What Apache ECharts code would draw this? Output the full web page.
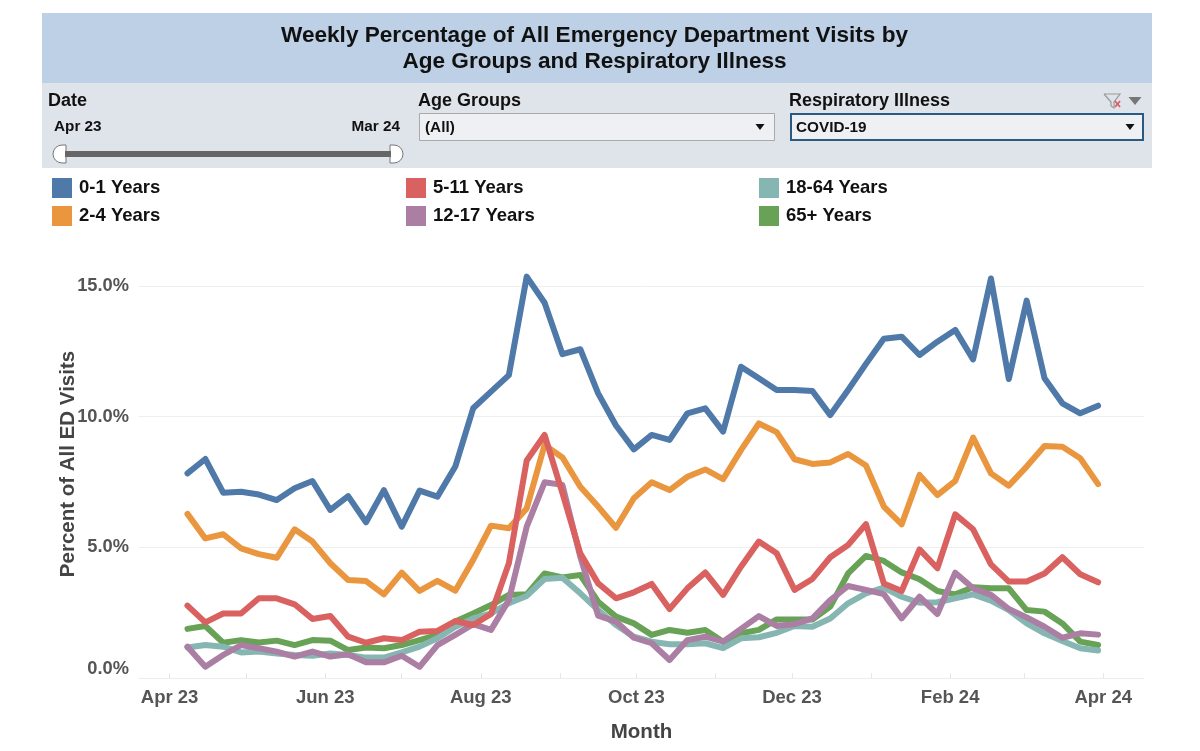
<!DOCTYPE html>
<html>
<head>
<meta charset="utf-8">
<title>Weekly Percentage of All Emergency Department Visits</title>
<script src="https://cdn.jsdelivr.net/npm/echarts@6/dist/echarts.min.js"></script>
<style>html,body{margin:0;padding:0;background:#fff}#c{width:1200px;height:751px}</style>
</head>
<body>
<div id="c"></div>
<script>
const weeks = ['2023-04-08','2023-04-15','2023-04-22','2023-04-29','2023-05-06','2023-05-13','2023-05-20','2023-05-27',
'2023-06-03','2023-06-10','2023-06-17','2023-06-24','2023-07-01','2023-07-08','2023-07-15','2023-07-22','2023-07-29',
'2023-08-05','2023-08-12','2023-08-19','2023-08-26','2023-09-02','2023-09-09','2023-09-16','2023-09-23','2023-09-30',
'2023-10-07','2023-10-14','2023-10-21','2023-10-28','2023-11-04','2023-11-11','2023-11-18','2023-11-25',
'2023-12-02','2023-12-09','2023-12-16','2023-12-23','2023-12-30','2024-01-06','2024-01-13','2024-01-20','2024-01-27',
'2024-02-03','2024-02-10','2024-02-17','2024-02-24','2024-03-02','2024-03-09','2024-03-16','2024-03-23','2024-03-30'];

const age0to1 = [7.83,8.38,7.09,7.13,7.02,6.81,7.26,7.54,6.43,6.96,5.96,7.19,5.79,7.17,6.94,8.09,10.32,10.96,11.59,15.36,14.36,12.39,12.58,10.89,9.66,8.75,9.30,9.11,10.13,10.32,9.43,11.91,11.47,11.02,11.02,10.98,10.06,11.02,12.02,12.98,13.06,12.36,12.87,13.32,12.19,15.29,11.44,14.44,11.47,10.51,10.13,10.42];
const age2to4 = [6.28,5.34,5.50,4.96,4.74,4.60,5.69,5.22,4.39,3.75,3.71,3.20,4.03,3.33,3.72,3.34,4.52,5.83,5.73,6.49,8.92,8.44,7.32,6.56,5.75,6.88,7.49,7.19,7.70,7.98,7.61,8.72,9.74,9.41,8.37,8.19,8.25,8.57,8.13,6.56,5.88,7.77,7.00,7.54,9.20,7.83,7.36,8.09,8.88,8.85,8.41,7.42];
const age5to11 = [2.77,2.13,2.47,2.47,3.05,3.05,2.82,2.26,2.37,1.58,1.35,1.52,1.45,1.77,1.80,2.18,2.03,2.45,4.39,8.32,9.30,7.07,4.77,3.62,3.05,3.28,3.60,2.64,3.43,4.04,3.18,4.26,5.22,4.77,3.37,3.79,4.62,5.09,5.89,3.62,3.33,4.92,4.20,6.26,5.69,4.35,3.69,3.69,4.00,4.62,3.97,3.66];
const age12to17 = [1.20,0.43,0.88,1.26,1.14,1.01,0.82,1.01,0.82,0.91,0.60,0.60,0.85,0.43,1.26,1.65,2.06,1.84,2.98,5.79,7.49,7.39,4.64,2.39,2.16,1.54,1.33,0.69,1.45,1.58,1.39,1.88,2.37,1.99,2.06,2.28,2.98,3.52,3.37,3.21,2.28,3.11,2.45,4.03,3.43,3.18,2.64,2.32,1.96,1.54,1.71,1.66];
const age18to64 = [1.17,1.26,1.20,0.98,1.01,0.94,0.88,0.85,0.94,0.88,0.78,0.78,0.98,1.20,1.52,1.96,2.28,2.47,2.86,3.14,3.79,3.84,3.24,2.60,2.03,1.58,1.39,1.29,1.29,1.33,1.14,1.52,1.56,1.73,1.99,1.96,2.28,2.86,3.24,3.46,3.11,2.88,2.90,3.05,3.20,2.96,2.60,2.09,1.71,1.42,1.14,1.05];
const age65plus = [1.88,1.99,1.35,1.45,1.36,1.43,1.26,1.45,1.43,1.07,1.17,1.14,1.26,1.45,1.65,2.16,2.47,2.79,3.18,3.20,4.00,3.85,3.94,2.92,2.35,2.09,1.65,1.84,1.73,1.84,1.39,1.71,1.84,2.24,2.24,2.24,2.73,4.00,4.67,4.48,4.04,3.78,3.33,3.20,3.47,3.43,3.43,2.60,2.54,2.09,1.39,1.26];

const monthTicks = ['2023-04-01','2023-05-01','2023-06-01','2023-07-01','2023-08-01','2023-09-01','2023-10-01','2023-11-01','2023-12-01','2024-01-01','2024-02-01','2024-03-01','2024-04-01'];
const labelTicks = ['2023-04-01','2023-06-01','2023-08-01','2023-10-01','2023-12-01','2024-02-01','2024-04-01'];
const tickLabels = ['Apr 23','Jun 23','Aug 23','Oct 23','Dec 23','Feb 24','Apr 24'];

const FONT = '"Liberation Sans", Arial, sans-serif';
const C = {a01:'#4f79a8', a24:'#e9963f', a511:'#d9615f', a1217:'#ab7ea3', a1864:'#85b6b2', a65:'#68a257'};

// days since 1 Apr 2023: the x axis is a linear day scale
const dayOf = s => (Date.parse(s + 'T00:00:00Z') - Date.parse('2023-04-01T00:00:00Z')) / 86400000;

function line(name, values, color) {
  return {
    name, type:'line', symbol:'none', clip:false, animation:false, silent:true,
    color, itemStyle:{color},
    lineStyle:{color, width:6, cap:'round', join:'round'},
    data: weeks.map((w,i)=>[dayOf(w), values[i]])
  };
}
function legendItem(name, left, top) {
  return {
    data:[name], left, top, padding:0, icon:'rect', itemWidth:20, itemHeight:20,
    selectedMode:false,
    textStyle:{fontFamily:FONT, fontWeight:'bold', fontSize:18.5, color:'#111', padding:[2,0,0,2]}
  };
}
function label(text, x, y, size, align) {
  return {type:'text', x, y, silent:true, z:5, style:{
    text, fontFamily:FONT, fontWeight:'bold', fontSize:size, fill:'#111',
    align:align||'left', verticalAlign:'middle'
  }};
}
function box(x, y, w, h, fill, stroke, lw, r) {
  return {type:'rect', silent:true, z:2, shape:{x,y,width:w,height:h,r:r||0},
    style:{fill, stroke:stroke||null, lineWidth:lw||0}};
}
function tri(cx, cy, w, h, fill) {
  return {type:'polygon', silent:true, z:5, shape:{points:[[cx-w/2,cy-h/2],[cx+w/2,cy-h/2],[cx,cy+h/2]]}, style:{fill}};
}

const chrome = [
  box(42,13,1110,70,'#bdd0e6'),
  box(42,83,1110,85,'#dfe3ea'),
  label('Date',48,101,18),
  label('Age Groups',418,101,18),
  label('Respiratory Illness',789,101,18),
  label('Apr 23',54,127,15.3),
  label('Mar 24',400,127,15.3,'right'),
  // date slider
  box(53,145,13,18,'#fff','#777',1,[9,0,0,9]),
  box(390,145,13,18,'#fff','#777',1,[0,9,9,0]),
  box(65,151,326,6,'#666'),
  // drop-downs
  box(419.5,113.5,355,27,'#eef0f4','#a9a9a9',1),
  label('(All)',425,128,15.3),
  tri(760,127,9,6,'#111'),
  box(791,114,352,26,'#eef0f4','#2b5a80',2),
  label('COVID-19',796,128,15.3),
  tri(1130,127,9,6,'#111'),
  // filter icons
  {type:'polyline', silent:true, z:5, shape:{points:[[1104,94],[1120,94],[1114,102],[1114,108],[1111,106],[1111,102],[1104,94]]}, style:{stroke:'#999',lineWidth:1.2,fill:'none'}},
  {type:'line', silent:true, z:5, shape:{x1:1115,y1:101,x2:1120,y2:107}, style:{stroke:'#d9615f',lineWidth:1.8}},
  {type:'line', silent:true, z:5, shape:{x1:1120,y1:101,x2:1115,y2:107}, style:{stroke:'#d9615f',lineWidth:1.8}},
  tri(1135,101,13,8,'#777')
];

const option = {
  backgroundColor:'#fff',
  animation:false,
  title:{
    text:'Weekly Percentage of All Emergency Department Visits by\nAge Groups and Respiratory Illness',
    left:594.5, top:23, padding:0, textAlign:'center', z:10,
    textStyle:{fontFamily:FONT, fontWeight:'bold', fontSize:22.6, lineHeight:26, color:'#111'}
  },
  graphic:{elements:chrome},
  legend:[
    legendItem('0-1 Years',52,178), legendItem('2-4 Years',52,206),
    legendItem('5-11 Years',406,178), legendItem('12-17 Years',406,206),
    legendItem('18-64 Years',759,178), legendItem('65+ Years',759,206)
  ],
  grid:{left:139, right:56, top:286, bottom:73, containLabel:false, outerBoundsMode:'none'},
  xAxis:{
    type:'value', min:-12, max:382, scale:true,
    name:'Month', nameLocation:'middle', nameGap:44, nameMoveOverlap:false,
    nameTextStyle:{fontFamily:FONT, fontWeight:'bold', fontSize:20.5, color:'#444'},
    axisLine:{show:true, lineStyle:{color:'#ececec',width:1}},
    axisTick:{show:true, inside:true, length:5, customValues:monthTicks.map(dayOf), lineStyle:{color:'#e6e6e6',width:1}},
    axisLabel:{
      show:true, customValues:labelTicks.map(dayOf), margin:10, hideOverlap:false,
      showMinLabel:true, showMaxLabel:true,
      fontFamily:FONT, fontWeight:'bold', fontSize:18.5, color:'#555',
      formatter:(v,i)=>tickLabels[labelTicks.map(dayOf).indexOf(v)]
    },
    splitLine:{show:false}
  },
  yAxis:{
    type:'value', min:0, max:15, interval:5,
    name:'Percent of All ED Visits', nameLocation:'middle', nameGap:60, nameMoveOverlap:false,
    nameTextStyle:{fontFamily:FONT, fontWeight:'bold', fontSize:20.5, color:'#444', padding:[0,0,0,36]},
    axisLine:{show:false}, axisTick:{show:false},
    axisLabel:{
      margin:10, fontFamily:FONT, fontWeight:'bold', fontSize:18.3, color:'#555',
      verticalAlignMinLabel:'bottom',
      formatter:v=>v.toFixed(1)+'%'
    },
    splitLine:{show:true, lineStyle:{color:'#eeeeee',width:1}}
  },
  series:[
    line('65+ Years',age65plus,C.a65),
    line('18-64 Years',age18to64,C.a1864),
    line('12-17 Years',age12to17,C.a1217),
    line('0-1 Years',age0to1,C.a01),
    line('2-4 Years',age2to4,C.a24),
    line('5-11 Years',age5to11,C.a511)
  ]
};
echarts.init(document.getElementById('c'),null,{renderer:'canvas'}).setOption(option);
</script>
</body>
</html>
